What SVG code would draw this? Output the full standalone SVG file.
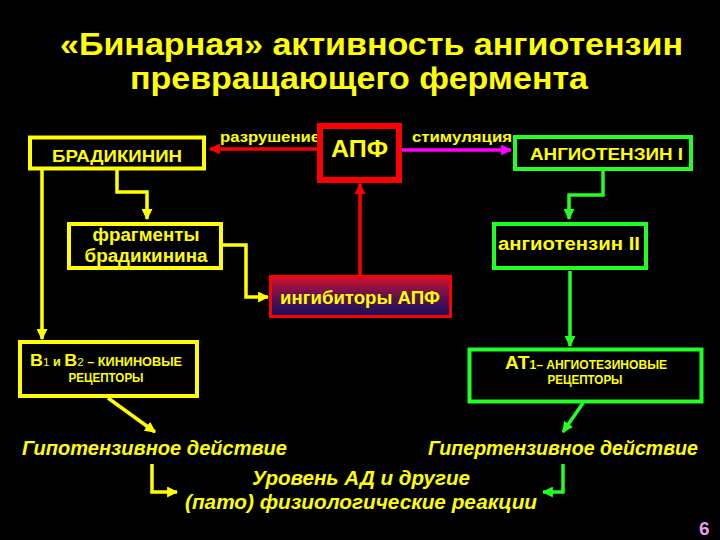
<svg xmlns="http://www.w3.org/2000/svg" width="720" height="540" viewBox="0 0 720 540">
<defs>
<style>
.t{font-family:"Liberation Sans",Arial,sans-serif;fill:#FFFF00;font-weight:bold}
.it{font-family:"Liberation Sans",Arial,sans-serif;fill:#FFFF00;font-weight:bold;font-style:italic;font-size:21px}
.yb{fill:#000;stroke:#FFFF00;stroke-width:4}
.gb{fill:#000;stroke:#22FF22;stroke-width:4}
.yl{fill:none;stroke:#FFFF00;stroke-width:3.5}
.gl{fill:none;stroke:#22FF22;stroke-width:3.5}
.rl{fill:none;stroke:#FF0000;stroke-width:3.5}
.ml{fill:none;stroke:#FF00FF;stroke-width:3.5}
</style>
<linearGradient id="inh" x1="0" y1="0" x2="0" y2="1">
<stop offset="0" stop-color="#D01030"/>
<stop offset="0.5" stop-color="#601050"/>
<stop offset="1" stop-color="#14105C"/>
</linearGradient>
<marker id="ay" viewBox="0 0 10 10" refX="9" refY="5" markerWidth="11" markerHeight="11" markerUnits="userSpaceOnUse" orient="auto"><path d="M0,0 L10,5 L0,10 z" fill="#FFFF00"/></marker>
<marker id="ag" viewBox="0 0 10 10" refX="9" refY="5" markerWidth="11" markerHeight="11" markerUnits="userSpaceOnUse" orient="auto"><path d="M0,0 L10,5 L0,10 z" fill="#22FF22"/></marker>
<marker id="ar" viewBox="0 0 10 10" refX="9" refY="5" markerWidth="11" markerHeight="11" markerUnits="userSpaceOnUse" orient="auto"><path d="M0,0 L10,5 L0,10 z" fill="#FF0000"/></marker>
<marker id="am" viewBox="0 0 10 10" refX="9" refY="5" markerWidth="11" markerHeight="11" markerUnits="userSpaceOnUse" orient="auto"><path d="M0,0 L10,5 L0,10 z" fill="#FF00FF"/></marker>
</defs>
<rect x="0" y="0" width="720" height="540" fill="#000"/>

<g id="title">
<text class="t" x="60" y="55" font-size="31" textLength="623" lengthAdjust="spacingAndGlyphs">«Бинарная» активность ангиотензин</text>
<text class="t" x="130" y="89" font-size="31" textLength="458" lengthAdjust="spacingAndGlyphs">превращающего фермента</text>
</g>

<g id="connectors">
<path class="rl" d="M317,149 H210" marker-end="url(#ar)"/>
<path class="ml" d="M402,150 H511" marker-end="url(#am)"/>
<path class="rl" d="M360,275 V184" marker-end="url(#ar)"/>
<path class="yl" d="M42,170 V339" marker-end="url(#ay)"/>
<path class="yl" d="M117,170 V192 H147 V219" marker-end="url(#ay)"/>
<path class="yl" d="M223,245 H246 V297 H268" marker-end="url(#ay)"/>
<path class="gl" d="M603,171 V195 H569 V219" marker-end="url(#ag)"/>
<path class="gl" d="M570,271 V346" marker-end="url(#ag)"/>
<path class="yl" d="M108,398 L155,432" marker-end="url(#ay)"/>
<path class="gl" d="M583,403 L563,432" marker-end="url(#ag)"/>
<path class="yl" d="M152,464 V492 H177" marker-end="url(#ay)"/>
<path class="gl" d="M563,464 V492 H543" marker-end="url(#ag)"/>
</g>

<g id="bradykinin">
<rect class="yb" x="30" y="137.5" width="174" height="31" stroke-width="5"/>
<text class="t" x="117" y="162" font-size="17" text-anchor="middle" textLength="130" lengthAdjust="spacingAndGlyphs">БРАДИКИНИН</text>
</g>

<g id="label-destroy">
<text class="t" x="220" y="142" font-size="15" textLength="100" lengthAdjust="spacingAndGlyphs">разрушение</text>
</g>

<g id="ace">
<rect x="320" y="126" width="79" height="54" fill="#000" stroke="#FF0000" stroke-width="6"/>
<text class="t" x="359.5" y="157" font-size="24" text-anchor="middle" textLength="57" lengthAdjust="spacingAndGlyphs">АПФ</text>
</g>

<g id="label-stim">
<text class="t" x="412" y="142" font-size="15" textLength="100" lengthAdjust="spacingAndGlyphs">стимуляция</text>
</g>

<g id="angiotensin1">
<rect class="gb" x="515" y="137" width="176" height="32" stroke-width="5"/>
<text class="t" x="530" y="160" font-size="17" textLength="153" lengthAdjust="spacingAndGlyphs">АНГИОТЕНЗИН I</text>
</g>

<g id="fragments">
<rect class="yb" x="69" y="224" width="152" height="44" stroke-width="3.5"/>
<text class="t" x="146" y="241" font-size="18" text-anchor="middle" textLength="107" lengthAdjust="spacingAndGlyphs">фрагменты</text>
<text class="t" x="146" y="262" font-size="18" text-anchor="middle" textLength="123" lengthAdjust="spacingAndGlyphs">брадикинина</text>
</g>

<g id="angiotensin2">
<rect class="gb" x="494" y="224" width="152" height="44" stroke-width="3.5"/>
<text class="t" x="569" y="250" font-size="18" text-anchor="middle" textLength="142" lengthAdjust="spacingAndGlyphs">ангиотензин II</text>
</g>

<g id="inhibitors">
<rect x="270.5" y="276.5" width="180" height="40" fill="url(#inh)" stroke="#FF0000" stroke-width="3"/>
<text class="t" x="360" y="304" font-size="18" text-anchor="middle" textLength="160" lengthAdjust="spacingAndGlyphs">ингибиторы АПФ</text>
</g>

<g id="b-receptors">
<rect class="yb" x="20" y="342" width="177" height="54" stroke-width="3.5"/>
<text class="t" x="30" y="366" font-size="12" textLength="152" lengthAdjust="spacingAndGlyphs"><tspan font-size="17">В</tspan><tspan font-size="11" font-weight="normal">1</tspan> и <tspan font-size="17">В</tspan><tspan font-size="11" font-weight="normal">2</tspan> – КИНИНОВЫЕ</text>
<text class="t" x="106" y="382" font-size="12" text-anchor="middle" textLength="75" lengthAdjust="spacingAndGlyphs">РЕЦЕПТОРЫ</text>
</g>

<g id="at-receptors">
<rect class="gb" x="469.5" y="349.5" width="232" height="52" stroke-width="3.5"/>
<text class="t" x="505" y="369" font-size="12" textLength="162" lengthAdjust="spacingAndGlyphs"><tspan font-size="19">АТ</tspan><tspan font-size="12">1– АНГИОТЕЗИНОВЫЕ</tspan></text>
<text class="t" x="585" y="384" font-size="12" text-anchor="middle" textLength="75" lengthAdjust="spacingAndGlyphs">РЕЦЕПТОРЫ</text>
</g>

<g id="hypotensive">
<text class="it" x="22" y="455" textLength="265" lengthAdjust="spacingAndGlyphs">Гипотензивное действие</text>
</g>
<g id="hypertensive">
<text class="it" x="428" y="455" textLength="270" lengthAdjust="spacingAndGlyphs">Гипертензивное действие</text>
</g>
<g id="outcome">
<text class="it" x="252" y="485" textLength="218" lengthAdjust="spacingAndGlyphs">Уровень АД и другие</text>
<text class="it" x="185" y="509" textLength="352" lengthAdjust="spacingAndGlyphs">(пато) физиологические реакции</text>
</g>
<g id="page">
<text x="699" y="535" font-family="Liberation Sans, Arial, sans-serif" font-weight="bold" font-size="19" fill="#E89CF0">6</text>
</g>
</svg>
